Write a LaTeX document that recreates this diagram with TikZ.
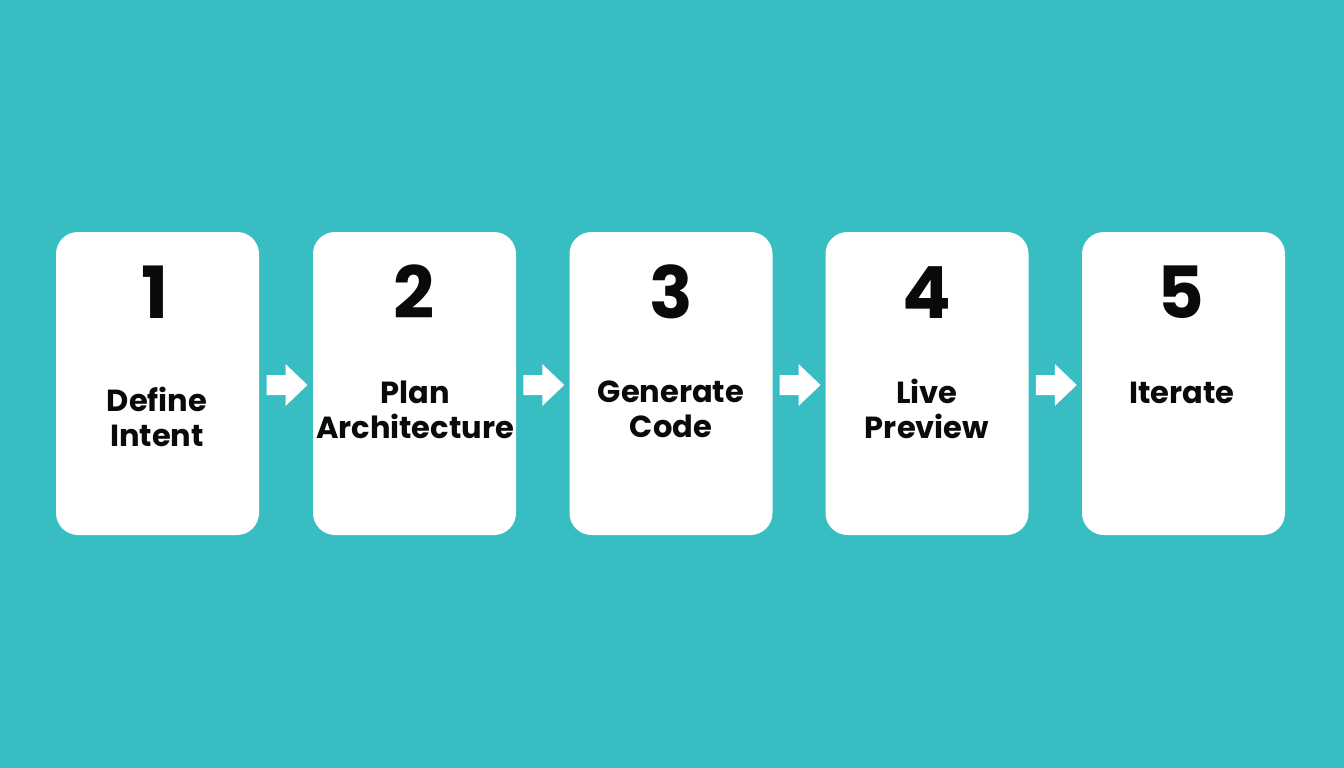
\documentclass[tikz,border=0pt]{standalone}
\usepackage{fontspec}
\setmainfont{Poppins}
\usetikzlibrary{calc}
\definecolor{bgteal}{HTML}{38BEC2}
\definecolor{ink}{HTML}{0A0A0A}
\tikzset{
  card/.style={fill=white, draw=none, rounded corners=22pt, minimum width=203pt, minimum height=303pt, inner sep=0pt},
  num/.style={font=\fontsize{72}{72}\selectfont\bfseries, text=ink, inner sep=0pt, anchor=base},
  lbl/.style={font=\fontsize{30.5}{35}\selectfont\bfseries, text=ink, align=center, inner sep=0pt},
  flowarrow/.style={fill=white, draw=none}
}
\newcommand{\blockarrow}[3]{%
  \path ($(#1.east)!0.5!(#2.west)+(1,1.5)$) coordinate (#3);
  \fill[flowarrow] ($(#3)+(-20.5,-10)$) -- ($(#3)+(-1.5,-10)$) -- ($(#3)+(-1.5,-21)$)
     -- ($(#3)+(20.5,0)$) -- ($(#3)+(-1.5,21)$) -- ($(#3)+(-1.5,10)$) -- ($(#3)+(-20.5,10)$) -- cycle;
}
\begin{document}
\begin{tikzpicture}[x=1pt,y=-1pt]
\fill[bgteal] (0,0) rectangle (1344,768);
\useasboundingbox (0,0) rectangle (1344,768);
\node[card] (c1) at (157.5,383.5) {};
\node[card] (c2) at (414.5,383.5) {};
\node[card] (c3) at (671,383.5) {};
\node[card] (c4) at (927,383.5) {};
\node[card] (c5) at (1183.5,383.5) {};
\node[num] (n1) at (155,318) {1};
\node[num] (n2) at (414,318) {2};
\node[num] (n3) at (671,318) {3};
\node[num] (n4) at (927,318) {4};
\node[num] (n5) at (1181,318) {5};
\node[lbl] (l1) at (157,417) {Define\\Intent};
\node[lbl] (l2) at (415,410) {Plan\\Architecture};
\node[lbl] (l3) at (671,409) {Generate\\Code};
\node[lbl] (l4) at (927,409) {Live\\Preview};
\node[lbl] (l5) at (1182,393) {Iterate};
\blockarrow{c1}{c2}{m1}
\blockarrow{c2}{c3}{m2}
\blockarrow{c3}{c4}{m3}
\blockarrow{c4}{c5}{m4}
\end{tikzpicture}
\end{document}
